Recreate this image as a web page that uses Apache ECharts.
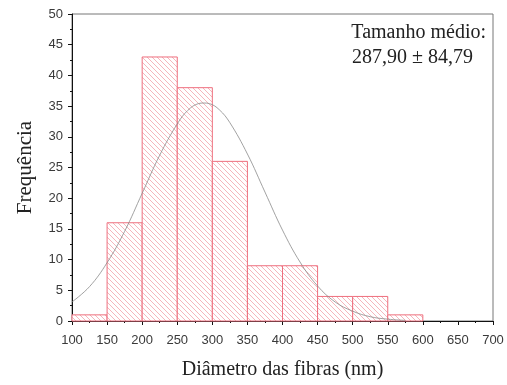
<!DOCTYPE html>
<html>
<head>
<meta charset="utf-8">
<script src="https://cdn.jsdelivr.net/npm/echarts@6/dist/echarts.min.js"></script>
<style>
  html, body { margin: 0; padding: 0; background: #fff; }
  #chart { width: 507px; height: 385px; }
</style>
</head>
<body>
<div id="chart"></div>
<script>
// bins (nm) and counts
const binStart = [100, 150, 200, 250, 300, 350, 400, 450, 500, 550]
const binEnd = [150, 200, 250, 300, 350, 400, 450, 500, 550, 600]
const counts = [1, 16, 43, 38, 26, 9, 9, 4, 4, 1]

// fitted normal curve
const curveX = [100, 125, 150, 175, 200, 225, 250, 265, 280, 288, 296, 310, 325, 350, 375, 400, 425, 450, 475, 500, 525, 550, 575]
const curveY = [3.1, 5.6, 9.5, 14.6, 20.8, 27.0, 32.1, 34.3, 35.4, 35.5, 35.4, 34.4, 32.3, 27.2, 21.0, 14.8, 9.6, 5.7, 3.1, 1.6, 0.7, 0.3, 0.1]

const xTicks = { min: 100, max: 700, interval: 50 }
const yTicks = { min: 0, max: 50, interval: 5 }

const serif = '"Liberation Serif", "DejaVu Serif", serif'
const sans = '"Liberation Sans", Arial, sans-serif'

// hatch pattern "\\\\"
const tile = document.createElement('canvas')
tile.width = 5
tile.height = 5
const ctx = tile.getContext('2d')
ctx.fillStyle = '#fff'
ctx.fillRect(0, 0, 5, 5)
ctx.strokeStyle = '#f2a3ab'
ctx.lineWidth = 0.8
ctx.beginPath()
ctx.moveTo(-1, -1); ctx.lineTo(6, 6)
ctx.moveTo(-1, 4); ctx.lineTo(1, 6)
ctx.moveTo(4, -1); ctx.lineTo(6, 1)
ctx.stroke()

const chart = echarts.init(document.getElementById('chart'))

const axisText = { fontFamily: sans, fontSize: 13, color: '#3a3a3a' }

chart.setOption({
  animation: false,
  grid: {
    left: 72, right: 14, top: 14, bottom: 58,
    show: true, borderColor: '#777', borderWidth: 1, backgroundColor: 'transparent'
  },
  xAxis: {
    type: 'value',
    min: xTicks.min, max: xTicks.max, interval: xTicks.interval,
    name: 'Diâmetro das fibras (nm)',
    nameLocation: 'middle', nameGap: 39,
    nameTextStyle: { fontFamily: serif, fontSize: 20, color: '#222' },
    axisLine: { lineStyle: { color: '#111', width: 1 } },
    axisTick: { inside: false, length: 4, lineStyle: { color: '#111' } },
    minorTick: { show: true, splitNumber: 2, length: 2, lineStyle: { color: '#111' } },
    splitLine: { show: false },
    axisLabel: Object.assign({ margin: 13 }, axisText)
  },
  yAxis: {
    type: 'value',
    min: yTicks.min, max: yTicks.max, interval: yTicks.interval,
    name: 'Frequência',
    nameLocation: 'middle', nameGap: 36,
    nameTextStyle: { fontFamily: serif, fontSize: 21, color: '#222' },
    axisLine: { show: true, lineStyle: { color: '#111', width: 1 } },
    axisTick: { show: true, inside: false, length: 4, lineStyle: { color: '#111' } },
    minorTick: { show: true, splitNumber: 2, length: 2, lineStyle: { color: '#111' } },
    splitLine: { show: false },
    axisLabel: Object.assign({ margin: 9 }, axisText)
  },
  graphic: [
    {
      type: 'text', right: 21, top: 23,
      style: { text: 'Tamanho médio:', font: '20px ' + serif, fill: '#222', textAlign: 'right' }
    },
    {
      type: 'text', right: 34, top: 48,
      style: { text: '287,90 ± 84,79', font: '20px ' + serif, fill: '#222', textAlign: 'right' }
    }
  ],
  series: [
    {
      type: 'custom',
      data: counts.map((c, i) => [binStart[i], binEnd[i], c]),
      encode: { x: [0, 1], y: 2 },
      renderItem: function (params, api) {
        const p0 = api.coord([api.value(0), api.value(2)])
        const p1 = api.coord([api.value(1), 0])
        return {
          type: 'rect',
          shape: { x: p0[0], y: p0[1], width: p1[0] - p0[0], height: p1[1] - p0[1] },
          style: {
            fill: { image: tile, repeat: 'repeat' },
            stroke: '#ee6f7e',
            lineWidth: 1
          }
        }
      }
    },
    {
      type: 'line',
      data: curveX.map((x, i) => [x, curveY[i]]),
      smooth: 0.4,
      showSymbol: false,
      symbol: 'none',
      lineStyle: { color: '#8a8a8a', width: 0.8 },
      z: 5
    }
  ]
})
</script>
</body>
</html>
